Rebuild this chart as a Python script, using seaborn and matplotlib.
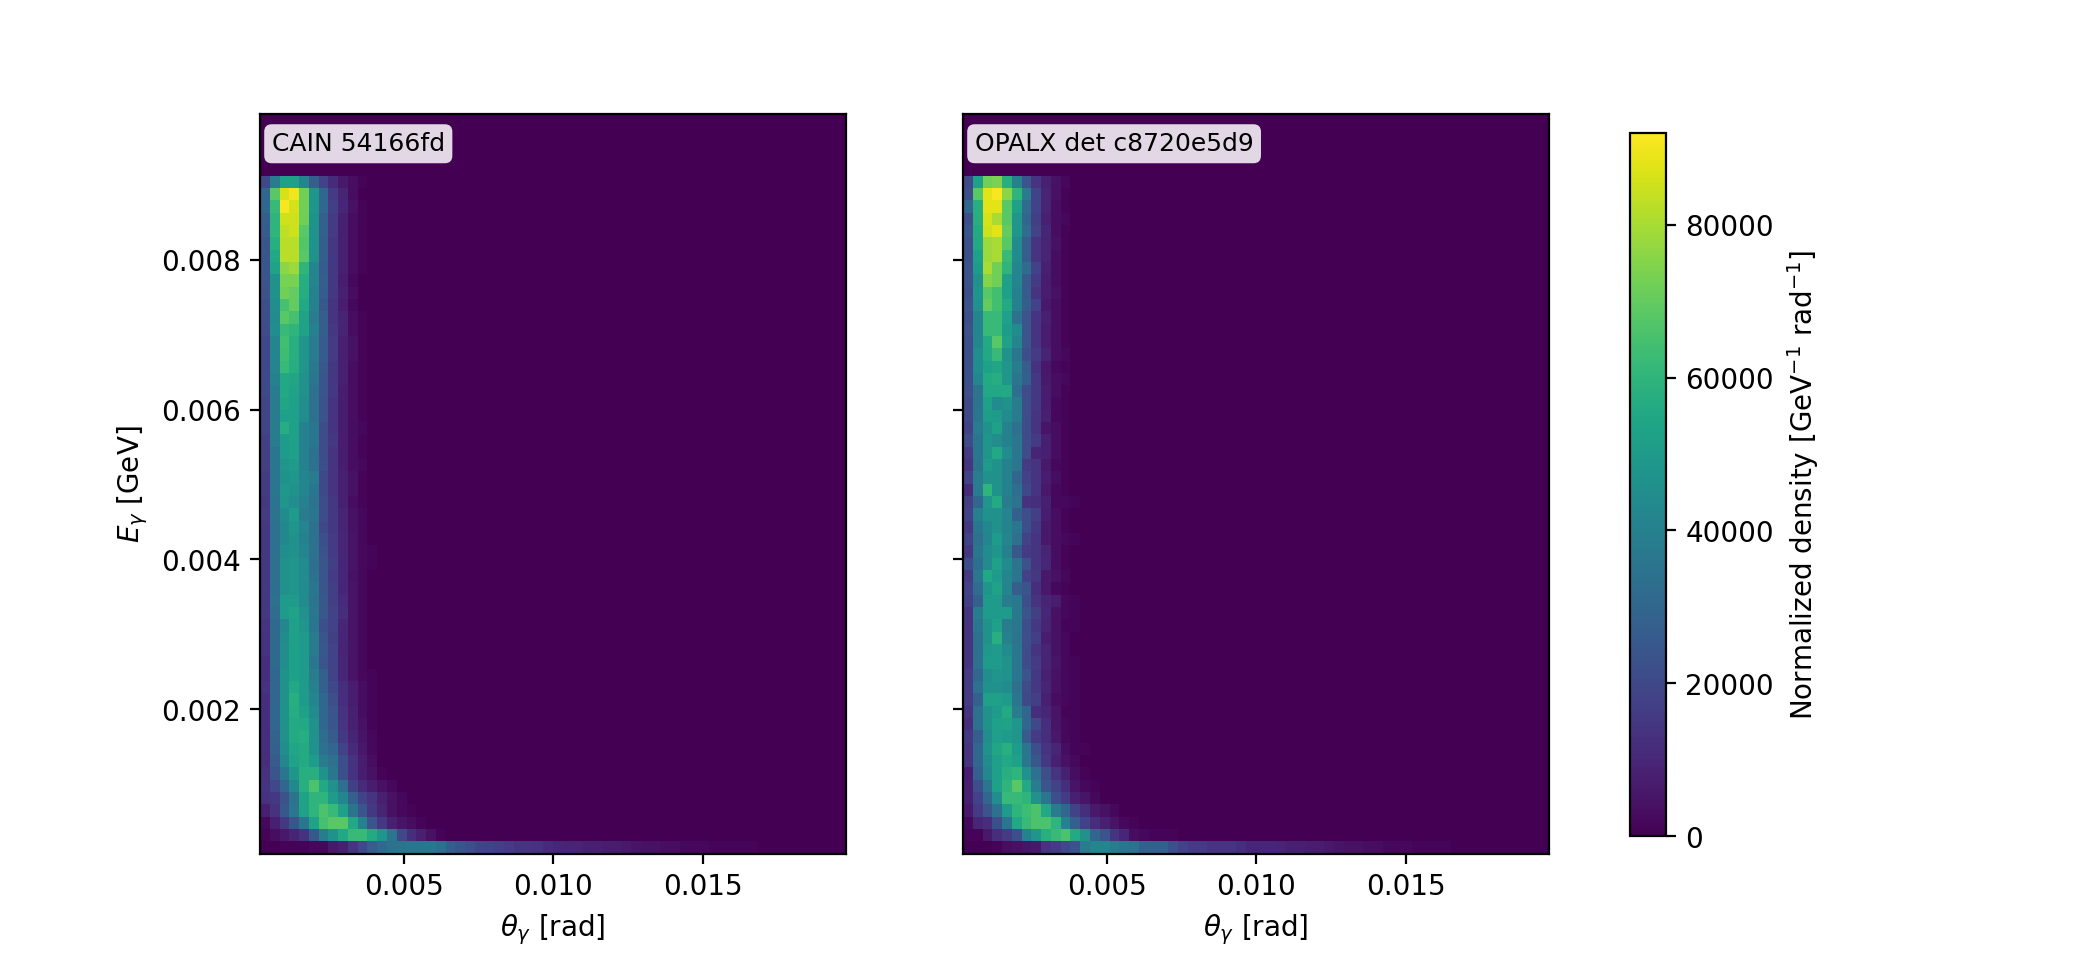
import numpy as np
import matplotlib
matplotlib.use("Agg")
import matplotlib.pyplot as plt
import seaborn as sns

# densities in thousands, rows from top of the filled area, columns from theta min
# anything not listed is zero
cain_rows = [
    [20, 38, 52, 52, 42, 27, 18, 11, 6, 3, 1],
    [30, 68, 86, 90, 72, 48, 30, 16, 9, 3],
    [30, 62, 91, 86, 72, 48, 30, 17, 10, 4, 1],
    [27, 60, 85, 85, 72, 47, 28, 16, 8, 3, 1],
    [26, 60, 83, 85, 68, 47, 28, 16, 8, 3, 1],
    [24, 58, 82, 82, 67, 47, 27, 15, 8, 3, 1],
    [24, 55, 82, 82, 68, 46, 27, 15, 8, 3, 1],
    [24, 53, 76, 78, 60, 42, 26, 15, 8, 3, 1],
    [24, 46, 73, 73, 57, 42, 27, 15, 7, 2],
    [23, 46, 72, 70, 57, 40, 26, 15, 8, 3],
    [22, 45, 65, 70, 55, 40, 25, 14, 7, 2],
    [22, 44, 68, 65, 53, 38, 27, 14, 9, 3, 1],
    [21, 45, 62, 60, 53, 40, 27, 15, 9, 3, 1],
    [20, 42, 64, 58, 48, 38, 26, 16, 8, 4, 1],
    [20, 42, 63, 58, 48, 38, 26, 16, 8, 4, 1],
    [20, 42, 62, 57, 48, 37, 25, 15, 8, 3, 1],
    [20, 40, 55, 54, 46, 36, 24, 15, 8, 3, 1],
    [20, 38, 55, 53, 46, 34, 24, 15, 7, 3, 1],
    [19, 38, 54, 52, 45, 34, 23, 14, 7, 3, 1],
    [19, 38, 52, 52, 45, 34, 23, 14, 7, 3, 1],
    [19, 38, 57, 52, 40, 36, 21, 14, 7, 3, 2],
    [17, 38, 50, 52, 40, 36, 21, 15, 7, 3, 1],
    [17, 36, 50, 52, 40, 34, 21, 14, 7, 3, 1],
    [17, 36, 48, 50, 40, 34, 22, 14, 7, 3, 2],
    [16, 36, 47, 48, 42, 38, 20, 14, 8, 4, 1],
    [16, 36, 49, 47, 42, 36, 20, 14, 8, 4, 1],
    [15, 35, 48, 45, 40, 35, 21, 15, 8, 3, 1],
    [16, 35, 44, 50, 38, 36, 21, 15, 9, 4, 2],
    [15, 34, 43, 48, 42, 34, 20, 15, 9, 4, 2],
    [15, 34, 43, 46, 40, 34, 22, 16, 10, 5, 2],
    [15, 34, 45, 46, 42, 34, 23, 16, 10, 5, 2, 1],
    [15, 34, 46, 48, 44, 33, 24, 17, 10, 5, 2, 1],
    [15, 34, 46, 48, 44, 34, 24, 16, 10, 4, 2],
    [15, 33, 46, 48, 44, 36, 24, 17, 10, 5, 2],
    [15, 34, 50, 50, 44, 35, 25, 17, 11, 5, 2],
    [15, 32, 50, 53, 46, 36, 25, 18, 12, 5, 2],
    [14, 31, 43, 52, 48, 36, 22, 18, 10, 5, 2],
    [13, 31, 44, 52, 50, 38, 24, 17, 10, 5, 2],
    [13, 31, 45, 52, 50, 38, 25, 18, 9, 5, 2],
    [12, 31, 45, 52, 50, 36, 24, 18, 10, 5, 2],
    [12, 30, 47, 52, 50, 38, 28, 18, 10, 5, 2, 1],
    [13, 30, 46, 55, 50, 40, 28, 20, 12, 7, 3, 1],
    [12, 30, 46, 58, 50, 42, 30, 22, 12, 7, 3, 1],
    [12, 30, 47, 57, 52, 44, 30, 24, 13, 8, 3, 1],
    [12, 30, 46, 56, 55, 46, 30, 24, 14, 8, 4, 1],
    [12, 29, 46, 56, 57, 46, 32, 26, 15, 9, 5, 2],
    [12, 28, 45, 54, 56, 47, 34, 30, 18, 11, 6, 2],
    [12, 26, 43, 53, 56, 50, 38, 34, 22, 13, 7, 3],
    [13, 24, 36, 48, 58, 58, 47, 36, 22, 13, 7, 4, 1],
    [14, 20, 30, 43, 58, 66, 55, 46, 33, 17, 11, 7, 4, 2],
    [13, 15, 23, 35, 53, 60, 60, 50, 42, 28, 18, 14, 8, 4, 2],
    [8, 13, 25, 36, 53, 60, 66, 62, 52, 35, 24, 15, 9, 4, 2, 1],
    [2, 8, 15, 24, 36, 53, 65, 68, 68, 55, 40, 24, 15, 8, 5, 3, 1],
    [1, 3, 6, 9, 13, 25, 38, 47, 55, 62, 62, 56, 48, 36, 20, 12, 8, 4, 1],
    [0, 0, 1, 1, 1, 2, 2, 6, 8, 14, 20, 27, 31, 34, 35, 36, 36, 36, 33, 27, 24, 22, 19, 18,
     17, 16, 14, 14, 13, 11, 10, 9, 9, 8, 8, 7, 7, 6, 5, 4, 4, 3, 3, 2, 2, 2, 1, 1, 1, 1, 1],
]

opalx_rows = [
    [20, 52, 72, 74, 58, 40, 24, 14, 8, 4, 2],
    [22, 68, 88, 91, 76, 60, 38, 18, 9, 4, 1],
    [30, 58, 88, 88, 68, 52, 32, 18, 9, 3, 1],
    [22, 58, 86, 80, 68, 48, 30, 17, 8, 3, 2],
    [24, 56, 85, 88, 70, 48, 32, 18, 10, 3, 1],
    [22, 56, 78, 80, 68, 44, 27, 14, 9, 4, 1],
    [22, 52, 78, 80, 62, 44, 27, 14, 9, 3, 1],
    [23, 50, 80, 72, 60, 42, 32, 18, 8, 3, 1],
    [23, 46, 75, 72, 52, 42, 26, 16, 7, 3, 1],
    [22, 48, 68, 64, 52, 40, 26, 14, 7, 4, 1],
    [23, 46, 70, 64, 56, 40, 27, 18, 6, 3, 1],
    [22, 42, 62, 62, 52, 34, 24, 14, 8, 3, 1],
    [23, 42, 62, 62, 50, 44, 24, 14, 7, 3, 1],
    [22, 42, 56, 68, 52, 42, 24, 14, 7, 3, 1],
    [22, 45, 55, 62, 46, 36, 22, 16, 9, 3, 2],
    [22, 45, 52, 54, 48, 38, 27, 13, 6, 2, 1],
    [22, 42, 56, 57, 48, 36, 28, 15, 6, 3, 2],
    [22, 35, 55, 55, 55, 33, 21, 15, 7, 3, 1],
    [20, 35, 52, 44, 46, 38, 21, 15, 7, 2, 1],
    [20, 36, 51, 50, 44, 38, 21, 14, 8, 2, 1],
    [18, 38, 46, 52, 40, 34, 21, 14, 5, 3, 1],
    [21, 36, 48, 45, 40, 36, 21, 16, 8, 3, 1],
    [16, 36, 48, 55, 44, 36, 21, 9, 8, 3, 1],
    [14, 35, 50, 47, 40, 36, 16, 14, 6, 2, 1],
    [18, 38, 46, 46, 40, 30, 18, 14, 7, 3, 1],
    [11, 38, 60, 47, 40, 33, 20, 14, 6, 2, 1],
    [17, 30, 48, 56, 38, 35, 13, 12, 8, 2, 2, 1],
    [18, 40, 46, 46, 42, 28, 22, 17, 7, 3, 1],
    [15, 36, 43, 47, 41, 36, 22, 15, 6, 3, 1],
    [18, 34, 42, 50, 42, 34, 18, 14, 6, 3, 2, 1],
    [15, 36, 44, 48, 40, 25, 16, 14, 9, 3, 1],
    [21, 33, 44, 52, 44, 35, 23, 14, 10, 3, 1],
    [16, 36, 55, 50, 42, 36, 18, 15, 6, 4, 2],
    [18, 32, 48, 53, 42, 27, 24, 12, 6, 2, 1],
    [17, 28, 50, 50, 38, 37, 22, 14, 9, 7, 2, 1],
    [14, 38, 50, 50, 50, 37, 24, 17, 10, 4, 2, 1],
    [14, 36, 46, 52, 38, 36, 22, 15, 9, 4, 1, 1],
    [14, 34, 46, 58, 40, 35, 22, 17, 7, 4, 2],
    [14, 34, 49, 50, 44, 36, 21, 14, 9, 4, 2],
    [14, 34, 50, 50, 46, 36, 21, 16, 9, 5, 2, 1],
    [16, 30, 45, 48, 46, 36, 24, 15, 8, 4, 2, 1],
    [16, 34, 46, 46, 44, 34, 21, 15, 9, 4, 2, 1],
    [16, 28, 52, 52, 50, 36, 20, 17, 8, 3, 2, 1],
    [14, 34, 46, 50, 56, 38, 30, 12, 10, 5, 1, 1],
    [12, 34, 46, 52, 53, 48, 30, 20, 12, 5, 2, 1],
    [15, 27, 45, 52, 50, 48, 26, 16, 12, 6, 2, 1],
    [14, 30, 46, 54, 58, 50, 36, 22, 14, 10, 3, 1, 1],
    [14, 30, 44, 52, 55, 52, 36, 25, 15, 8, 4, 2],
    [7, 28, 43, 52, 58, 60, 46, 34, 22, 14, 8, 3, 1],
    [8, 22, 36, 52, 60, 68, 55, 38, 24, 18, 12, 5, 2, 1],
    [8, 18, 30, 45, 62, 62, 60, 46, 36, 22, 16, 8, 5, 2],
    [6, 16, 24, 34, 50, 60, 63, 66, 55, 38, 30, 18, 12, 6, 4, 2],
    [2, 10, 12, 22, 36, 55, 62, 66, 66, 60, 40, 28, 18, 12, 8, 5, 2, 1],
    [1, 1, 6, 12, 16, 22, 40, 48, 58, 62, 66, 56, 46, 30, 24, 14, 10, 3, 2, 1, 1, 1],
    [0, 0, 0, 1, 3, 4, 5, 6, 14, 16, 20, 23, 38, 42, 42, 38, 36, 34, 28, 28, 28, 22, 18, 16,
     16, 14, 14, 14, 12, 10, 10, 10, 9, 8, 8, 7, 7, 6, 5, 4, 4, 3, 3, 2, 2, 2, 1, 1, 1, 1],
]

panel_labels = ["CAIN 54166fd", "OPALX det c8720e5d9"]
theta_ticks = [0.005, 0.010, 0.015]
energy_ticks = [0.002, 0.004, 0.006, 0.008]
cbar_ticks = [0, 20000, 40000, 60000, 80000]

n_bins = 60
empty_top = 5  # rows above the data
theta_lim = (0.00018, 0.0198)
energy_lim = (0.00007, 0.00995)
vmax = 92000


def to_matrix(rows):
    mat = np.zeros((n_bins, n_bins))
    for i, row in enumerate(rows):
        mat[i + empty_top, :len(row)] = row
    return mat * 1000


def theta_pos(t):
    return [(v - theta_lim[0]) / (theta_lim[1] - theta_lim[0]) * n_bins for v in t]


def energy_pos(e):
    return [(energy_lim[1] - v) / (energy_lim[1] - energy_lim[0]) * n_bins for v in e]


# half a pixel extra so the saved height does not truncate to 959
W, H = 2080, 960.5
fig = plt.figure(figsize=(W / 200, H / 200), dpi=200)
ax1 = fig.add_axes([260 / W, 1 - 854 / H, 586 / W, 739.5 / H])
ax2 = fig.add_axes([963 / W, 1 - 854 / H, 586 / W, 739.5 / H])
cax = fig.add_axes([1630 / W, 1 - 836.5 / H, 36 / W, 703 / H])

for ax, rows, label in zip([ax1, ax2], [cain_rows, opalx_rows], panel_labels):
    sns.heatmap(
        to_matrix(rows),
        ax=ax,
        cmap="viridis",
        vmin=0,
        vmax=vmax,
        cbar=ax is ax2,
        cbar_ax=cax if ax is ax2 else None,
        xticklabels=False,
        yticklabels=False,
    )
    ax.set_xticks(theta_pos(theta_ticks))
    ax.set_xticklabels(["0.005", "0.010", "0.015"], rotation=0)
    ax.set_yticks(energy_pos(energy_ticks))
    ax.set_xlabel(r"$\theta_\gamma$ [rad]")
    ax.tick_params(length=3.5, width=0.8, labelsize=10)
    for spine in ax.spines.values():
        spine.set_visible(True)
        spine.set_linewidth(0.8)
    ax.text(
        0.02, 0.976, label, transform=ax.transAxes, va="top", ha="left", fontsize=9,
        bbox=dict(boxstyle="round,pad=0.3", facecolor="white", edgecolor="none", alpha=0.85),
    )

ax1.set_yticklabels([f"{v:.3f}" for v in energy_ticks], rotation=0)
ax1.set_ylabel(r"$E_\gamma$ [GeV]")
ax2.set_yticklabels([])

cbar = ax2.collections[0].colorbar
cbar.set_ticks(cbar_ticks)
cbar.set_label(r"Normalized density [GeV$^{-1}$ rad$^{-1}$]")
cbar.outline.set_visible(True)
cbar.outline.set_linewidth(0.8)
cbar.outline.set_edgecolor("black")
cbar.ax.tick_params(length=3.5, width=0.8, labelsize=10)

fig.savefig("out.png", dpi=200)
